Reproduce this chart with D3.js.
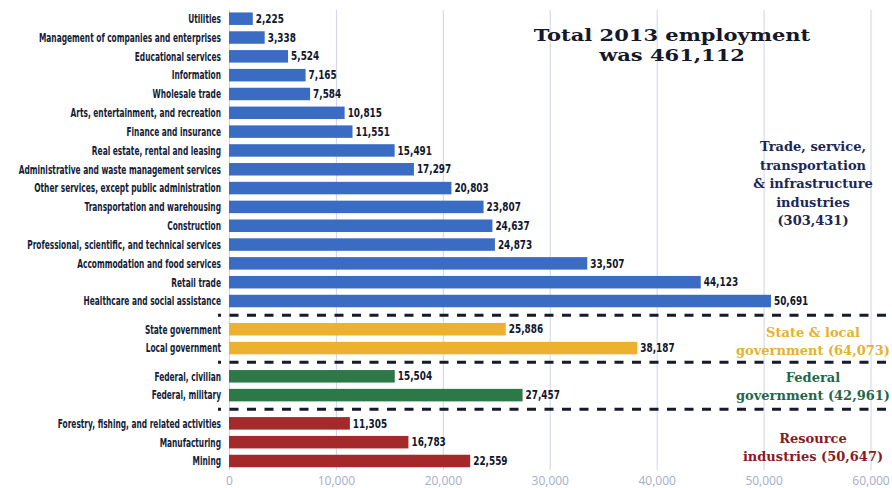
<!DOCTYPE html>
<html>
<head>
<meta charset="utf-8">
<script src="https://cdn.jsdelivr.net/npm/d3@7"></script>
<style>
  html, body { margin: 0; padding: 0; background: #ffffff; }
  svg { display: block; }
  .cat { font-family: "DejaVu Sans Condensed", "DejaVu Sans", sans-serif; font-weight: bold; font-size: 12px; fill: #141c38; }
  .val { font-family: "DejaVu Sans Condensed", "DejaVu Sans", sans-serif; font-weight: bold; font-size: 11.5px; fill: #10162e; }
  .tick text { font-family: "Open Sans", "DejaVu Sans", sans-serif; font-size: 12px; fill: #a2aecb; }
  .slab { font-family: "DejaVu Serif", serif; font-weight: bold; }
</style>
</head>
<body>
<svg id="chart" width="892" height="488"></svg>
<script>
// Employment by industry, 2013
const tradeCategories = [
  "Utilities", "Management of companies and enterprises", "Educational services",
  "Information", "Wholesale trade", "Arts, entertainment, and recreation",
  "Finance and insurance", "Real estate, rental and leasing",
  "Administrative and waste management services",
  "Other services, except public administration", "Transportation and warehousing",
  "Construction", "Professional, scientific, and technical services",
  "Accommodation and food services", "Retail trade", "Healthcare and social assistance"
];
const tradeValues = [2225, 3338, 5524, 7165, 7584, 10815, 11551, 15491, 17297, 20803, 23807, 24637, 24873, 33507, 44123, 50691];

const stateLocalCategories = ["State government", "Local government"];
const stateLocalValues = [25886, 38187];

const federalCategories = ["Federal, civilian", "Federal, military"];
const federalValues = [15504, 27457];

const resourceCategories = ["Forestry, fishing, and related activities", "Manufacturing", "Mining"];
const resourceValues = [11305, 16783, 22559];

const groupColors = ["#3a6cc4", "#ebb12f", "#2c7846", "#a3292a"];
const groupLabelColors = ["#1b2754", "#e6b12e", "#23674a", "#861c1f"];
const groupLabels = [
  ["Trade, service,", "transportation", "& infrastructure", "industries", "(303,431)"],
  ["State & local", "government (64,073)"],
  ["Federal", "government (42,961)"],
  ["Resource", "industries (50,647)"]
];
const titleLines = ["Total 2013 employment", "was 461,112"];
const xTicks = [0, 10000, 20000, 30000, 40000, 50000, 60000];

// Flatten groups into rows; each row gets a slot position with a half-step gap between groups
const groups = [
  [tradeCategories, tradeValues],
  [stateLocalCategories, stateLocalValues],
  [federalCategories, federalValues],
  [resourceCategories, resourceValues]
];
const groupGap = 0.5;
const rows = [];
let idx = 0;
groups.forEach(([cats, vals], g) => {
  cats.forEach((c, i) => {
    rows.push({ category: c, value: vals[i], group: g, slot: idx + g * groupGap });
    idx++;
  });
});
const lastSlot = rows[rows.length - 1].slot;

const svg = d3.select("#chart");

const x = d3.scaleLinear().domain([0, 60000]).range([229, 870.5]);
const y = d3.scaleLinear().domain([0, lastSlot]).range([18.7, 461]);
const barH = 12.5;
const fmt = d3.format(",");

// Narrow the condensed face horizontally so the longest label spans the label column
const probe = svg.append("text").attr("class", "cat")
  .text(d3.greatest(rows, d => d.category.length).category);
const catScale = 194 / probe.node().getComputedTextLength();
probe.remove();
const valScale = 0.86;

// Vertical gridlines and tick labels
const gridTop = 10, gridBottom = 470;
const axis = d3.axisBottom(x)
  .tickValues(xTicks)
  .tickFormat(fmt)
  .tickSize(-(gridBottom - gridTop))
  .tickPadding(6);
const axisG = svg.append("g")
  .attr("transform", `translate(0,${gridBottom})`)
  .call(axis);
axisG.select(".domain").remove();
axisG.selectAll(".tick line").attr("stroke", "#cfd2ec").attr("stroke-width", 1);

// Bars
svg.append("g").selectAll("rect")
  .data(rows)
  .join("rect")
  .attr("x", x(0))
  .attr("y", d => y(d.slot) - barH / 2)
  .attr("width", d => x(d.value) - x(0))
  .attr("height", barH)
  .attr("fill", d => groupColors[d.group]);

// Category labels
svg.append("g").selectAll("text")
  .data(rows)
  .join("text")
  .attr("class", "cat")
  .attr("transform", d => `translate(221,${y(d.slot)}) scale(${catScale},1)`)
  .attr("dy", "0.36em")
  .attr("text-anchor", "end")
  .text(d => d.category);

// Value labels
svg.append("g").selectAll("text")
  .data(rows)
  .join("text")
  .attr("class", "val")
  .attr("transform", d => `translate(${x(d.value) + 3},${y(d.slot)}) scale(${valScale},1)`)
  .attr("dy", "0.36em")
  .text(d => fmt(d.value));

// Dashed separators between groups
const sepSlots = [];
for (let i = 1; i < rows.length; i++) {
  if (rows[i].group !== rows[i - 1].group) sepSlots.push((rows[i].slot + rows[i - 1].slot) / 2);
}
svg.append("g").selectAll("line")
  .data(sepSlots)
  .join("line")
  .attr("x1", 218).attr("x2", 892)
  .attr("y1", d => y(d)).attr("y2", d => y(d))
  .attr("stroke", "#161a2c")
  .attr("stroke-width", 3)
  .attr("stroke-dasharray", "9,8.5")
  .attr("stroke-dashoffset", 6);

// Title, widened slab face
svg.append("g")
  .attr("transform", "translate(672,0) scale(1.2,1)")
  .selectAll("text")
  .data(titleLines)
  .join("text")
  .attr("class", "slab")
  .attr("x", 0)
  .attr("y", (d, i) => 41 + i * 20)
  .attr("text-anchor", "middle")
  .attr("font-size", 17.5)
  .attr("fill", "#15172a")
  .text(d => d);

// Group labels
const groupLabelPos = [
  { x: 813, y: 151, lh: 18.5 },
  { x: 813, y: 337, lh: 18 },
  { x: 813, y: 382, lh: 18 },
  { x: 813, y: 443, lh: 17.5 }
];
groupLabels.forEach((lines, g) => {
  const p = groupLabelPos[g];
  svg.append("text")
    .attr("class", "slab")
    .attr("text-anchor", "middle")
    .attr("font-size", 13)
    .attr("fill", groupLabelColors[g])
    .attr("y", p.y)
    .selectAll("tspan")
    .data(lines)
    .join("tspan")
    .attr("x", p.x)
    .attr("dy", (d, i) => i === 0 ? 0 : p.lh)
    .text(d => d);
});
</script>
</body>
</html>
